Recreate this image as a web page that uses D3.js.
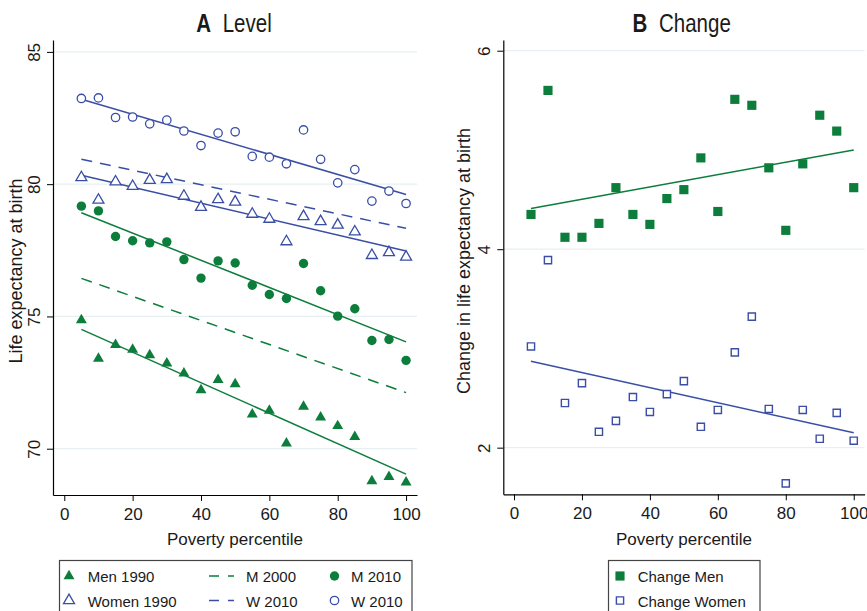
<!DOCTYPE html>
<html><head><meta charset="utf-8">
<script src="https://cdn.jsdelivr.net/npm/d3@7"></script>
<style>
body{margin:0;background:#fff}
svg{display:block}
text{font-family:"Liberation Sans",Arial,Helvetica,sans-serif;fill:#1a1a1a}
</style>
</head><body>
<svg id="c" width="867" height="611"></svg>
<script>
// ---------- data ----------
const percentiles = [5,10,15,20,25,30,35,40,45,50,55,60,65,70,75,80,85,90,95,100];
const men1990   = [74.86,73.41,73.93,73.75,73.54,73.23,72.85,72.22,72.60,72.44,71.30,71.44,70.20,71.59,71.19,70.86,70.45,68.78,68.94,68.73];
const women1990 = [80.25,79.40,80.09,79.92,80.15,80.18,79.55,79.13,79.42,79.33,78.87,78.68,77.83,78.78,78.59,78.46,78.20,77.31,77.42,77.25];
const men2010   = [79.17,78.99,78.02,77.86,77.78,77.82,77.15,76.45,77.10,77.02,76.18,75.83,75.68,77.00,75.97,75.01,75.29,74.09,74.13,73.34];
const women2010 = [83.24,83.26,82.52,82.54,82.28,82.42,82.01,81.46,81.93,81.98,81.05,81.02,80.77,82.05,80.94,80.05,80.55,79.36,79.74,79.27];
const changeMen   = [4.35,5.60,4.12,4.12,4.26,4.62,4.35,4.25,4.51,4.60,4.92,4.38,5.51,5.45,4.82,4.19,4.86,5.35,5.19,4.62];
const changeWomen = [3.02,3.89,2.45,2.65,2.16,2.27,2.51,2.36,2.54,2.67,2.21,2.38,2.96,3.32,2.39,1.64,2.38,2.09,2.35,2.07];
// fitted lines: value at percentile 5 and at percentile 100
const fitX = [5,100];
const fitMen1990   = [74.51,69.04];
const fitWomen1990 = [80.34,77.47];
const fitMen2000   = [76.44,72.12];
const fitWomen2000 = [80.94,78.33];
const fitMen2010   = [78.92,74.04];
const fitWomen2010 = [83.21,79.61];
const fitChangeMen   = [4.41,5.00];
const fitChangeWomen = [2.87,2.15];
const xTicks = [0,20,40,60,80,100];
const yTicksA = [70,75,80,85];
const yTicksB = [2,4,6];
const legendA = [
  ["Men 1990","triFill"],["M 2000","dashG"],["M 2010","circFill"],
  ["Women 1990","triOpen"],["W 2010","dashB"],["W 2010","circOpen"]];
const legendB = [["Change Men","sqFill"],["Change Women","sqOpen"]];

// ---------- styles ----------
const GREEN = "#0d7d3c", BLUE = "#3a4ea6", GRID = "#e6eff2";
const svg = d3.select("#c");

const xA = d3.scaleLinear().domain([-3.3,103.2]).range([53,417]);
const yA = d3.scaleLinear().domain([68.25,85.45]).range([495,40]);
const xB = d3.scaleLinear().domain([-3.15,103.2]).range([503.3,864.6]);
const yB = d3.scaleLinear().domain([1.53,6.108]).range([494.3,40]);

function marker(g, type, x, y){
  const tri = d3.symbol().type(d3.symbolTriangle).size(52)();
  const sq  = (s)=>d3.symbol().type(d3.symbolSquare).size(s)();
  if(type==="triFill") g.append("path").attr("d",tri).attr("transform",`translate(${x},${y})`).attr("fill",GREEN);
  else if(type==="triOpen") g.append("path").attr("d",tri).attr("transform",`translate(${x},${y})`).attr("fill","#fff").attr("stroke",BLUE).attr("stroke-width",1.3);
  else if(type==="circFill") g.append("circle").attr("cx",x).attr("cy",y).attr("r",4.7).attr("fill",GREEN);
  else if(type==="circOpen") g.append("circle").attr("cx",x).attr("cy",y).attr("r",4.2).attr("fill","#fff").attr("stroke",BLUE).attr("stroke-width",1.3);
  else if(type==="sqFill") g.append("path").attr("d",sq(84)).attr("transform",`translate(${x},${y})`).attr("fill",GREEN);
  else if(type==="sqOpen") g.append("path").attr("d",sq(52)).attr("transform",`translate(${x},${y})`).attr("fill","#fff").attr("stroke",BLUE).attr("stroke-width",1.4);
}

function panel(x, y, yTicks, xTitleX, yTitle, yTitleX, yTitleY, axisY, titleLetter, titleWord, letterEnd){
  const g = svg.append("g");
  // gridlines
  g.selectAll(".grid").data(yTicks).join("line")
    .attr("x1",x.range()[0]).attr("x2",x.range()[1])
    .attr("y1",d=>y(d)).attr("y2",d=>y(d))
    .attr("stroke",GRID).attr("stroke-width",1.2);
  // axes
  const ay = g.append("g").attr("transform",`translate(${x.range()[0]},0)`)
    .call(d3.axisLeft(y).tickValues(yTicks).tickSize(6).tickSizeOuter(0).tickFormat(d3.format("d")));
  ay.selectAll("text").attr("x",0).attr("y",-13.5).attr("dy",0).attr("transform","rotate(-90)")
    .attr("text-anchor","middle").style("font-size","17px");
  const ax = g.append("g").attr("transform",`translate(0,${axisY})`)
    .call(d3.axisBottom(x).tickValues(xTicks).tickSize(6).tickSizeOuter(0).tickFormat(d3.format("d")));
  ax.selectAll("text").attr("y",25).attr("dy",0).style("font-size","17px");
  g.selectAll(".domain").attr("stroke","#000").attr("stroke-width",1.2);
  g.selectAll(".tick line").attr("stroke","#000");
  g.selectAll(".tick text").attr("fill","#1a1a1a").attr("font-family",null);
  // titles
  g.append("text").attr("x",xTitleX).attr("y",545).attr("text-anchor","middle")
    .style("font-size","17px").text("Poverty percentile");
  g.append("text").attr("transform",`translate(${yTitleX},${yTitleY}) rotate(-90)`)
    .attr("text-anchor","middle").style("font-size","18px").text(yTitle);
  g.append("text").attr("transform",`translate(${letterEnd},32) scale(0.82,1)`).attr("text-anchor","end")
    .style("font-weight","bold").style("font-size","25px").text(titleLetter);
  g.append("text").attr("transform",`translate(${letterEnd+11.7},32) scale(0.82,1)`)
    .style("font-size","25px").text(titleWord);
  return g;
}

function fitLine(g, x, y, vals, color, dashed){
  g.append("line")
    .attr("x1",x(fitX[0])).attr("y1",y(vals[0]))
    .attr("x2",x(fitX[1])).attr("y2",y(vals[1]))
    .attr("stroke",color).attr("stroke-width",1.5)
    .attr("stroke-dasharray",dashed?"11,8":null);
}
function scatter(g, x, y, vals, type){
  vals.forEach((v,i)=>marker(g,type,x(percentiles[i]),y(v)));
}

// ---------- Panel A ----------
const gA = panel(xA, yA, yTicksA, 235, "Life expectancy at birth", 22, 271, 495, "A", "Level", 211);
fitLine(gA,xA,yA,fitWomen2010,BLUE,false);
fitLine(gA,xA,yA,fitWomen2000,BLUE,true);
fitLine(gA,xA,yA,fitWomen1990,BLUE,false);
fitLine(gA,xA,yA,fitMen2010,GREEN,false);
fitLine(gA,xA,yA,fitMen2000,GREEN,true);
fitLine(gA,xA,yA,fitMen1990,GREEN,false);
scatter(gA,xA,yA,women2010,"circOpen");
scatter(gA,xA,yA,women1990,"triOpen");
scatter(gA,xA,yA,men2010,"circFill");
scatter(gA,xA,yA,men1990,"triFill");

// ---------- Panel B ----------
const gB = panel(xB, yB, yTicksB, 684, "Change in life expectancy at birth", 470, 261, 494.3, "B", "Change", 647.3);
fitLine(gB,xB,yB,fitChangeMen,GREEN,false);
fitLine(gB,xB,yB,fitChangeWomen,BLUE,false);
scatter(gB,xB,yB,changeMen,"sqFill");
scatter(gB,xB,yB,changeWomen,"sqOpen");

// ---------- Legends ----------
const lA = svg.append("g");
lA.append("rect").attr("x",59.5).attr("y",560.5).attr("width",352.5).attr("height",70)
  .attr("fill","#fff").attr("stroke","#444").attr("stroke-width",1.2);
const colSym = [69,209,334.5], colText = [87.7,246,351], rowY = [576,600.5];
legendA.forEach((d,i)=>{
  const col = i%3, row = Math.floor(i/3);
  const cy = rowY[row];
  if(d[1]==="dashG"||d[1]==="dashB"){
    lA.append("line").attr("x1",colSym[col]).attr("x2",colSym[col]+25).attr("y1",cy).attr("y2",cy)
      .attr("stroke",d[1]==="dashG"?GREEN:BLUE).attr("stroke-width",1.5).attr("stroke-dasharray","10,9");
  } else marker(lA,d[1],colSym[col],cy);
  lA.append("text").attr("x",colText[col]).attr("y",cy+6).style("font-size","15px").text(d[0]);
});
const lB = svg.append("g");
lB.append("rect").attr("x",608.5).attr("y",560.5).attr("width",151.5).attr("height",70)
  .attr("fill","#fff").attr("stroke","#444").attr("stroke-width",1.2);
legendB.forEach((d,i)=>{
  const cy = rowY[i];
  marker(lB,d[1],620,cy);
  lB.append("text").attr("x",637.7).attr("y",cy+6).style("font-size","15px").text(d[0]);
});
</script>
</body></html>
